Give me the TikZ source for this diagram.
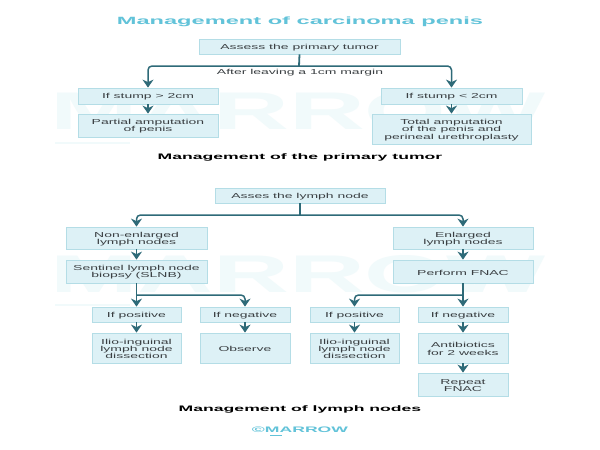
\documentclass[tikz,border=0pt]{standalone}
\usepackage{fontspec}
\setmainfont[FakeStretch=1.94]{Liberation Sans}
\newfontfamily\wmfont[FakeStretch=1.98]{Liberation Sans}
\newfontfamily\titlefont[FakeStretch=2.25]{Liberation Sans}
\newfontfamily\headfont[FakeStretch=2.2]{Liberation Sans}
\usetikzlibrary{arrows.meta}
\definecolor{boxfill}{HTML}{DDF1F6}
\definecolor{boxline}{HTML}{B4DDE6}
\definecolor{flowc}{HTML}{2E6A78}
\definecolor{titlec}{HTML}{62C3D9}
\definecolor{wmc}{HTML}{F1FAFB}
\definecolor{textc}{HTML}{3A3F42}
\tikzset{
  x=1pt,y=-1pt,
  fbox/.style={draw=boxline,fill=boxfill,line width=0.8pt,align=center,inner sep=0pt,text=textc,font=\fontsize{7.2}{7.2}\selectfont,anchor=center},
  flow/.style={draw=flowc,line width=1.8pt,-{Stealth[length=8pt,width=11pt,inset=2.5pt]}},
  flowline/.style={draw=flowc,line width=1.8pt},
  flowbend/.style={flow,line width=1.5pt,rounded corners=4pt},
  head/.style={font=\headfont\fontsize{8}{9}\selectfont\bfseries,text=black,inner sep=0pt},
  wm/.style={font=\wmfont\fontsize{53}{53}\selectfont\bfseries,text=wmc,inner sep=0pt},
  wmbar/.style={draw=wmc,line width=2pt},
}
\newcommand{\bx}[6]{\node[fbox,minimum width=#4pt-#2pt,minimum height=#5pt-#3pt] (#1) at ({(#2+#4)/2},{(#3+#5)/2}) {\rule{0pt}{7.2pt}#6};}
\begin{document}
\begin{tikzpicture}
\useasboundingbox (0,0) rectangle (600,450);
\fill[white] (0,0) rectangle (600,450);
\node[wm] (w1) at (298,111) {MARROW};
\node[wm] (w2) at (298,274) {MARROW};
\draw[wmbar] (55,143) -- (130,143);
\draw[wmbar] (55,305) -- (130,305);
\node[inner sep=0pt,font=\titlefont\fontsize{10.5}{12}\selectfont\bfseries,text=titlec] (title) at (300,22) {Management of carcinoma penis};
\bx{a}{199}{39}{400}{54}{Assess the primary tumor}
\bx{l1}{78}{88}{218}{104}{If stump > 2cm}
\bx{l2}{78}{114}{218}{137}{Partial amputation\\of penis}
\bx{r1}{381}{88}{522}{104}{If stump < 2cm}
\bx{r2}{372}{114}{531}{144}{Total amputation\\of the penis and\\perineal urethroplasty}
\coordinate (ja) at (299,66);
\draw[flowline] (a.south) -- (ja);
\draw[flowbend] (ja) -| (l1.north);
\draw[flowbend] (ja) -| (r1.north);
\draw[flow] (l1.south) -- (l2.north);
\draw[flow] (r1.south) -- (r2.north);
\node[inner sep=0pt,text=textc,font=\fontsize{7.2}{7.2}\selectfont] (mg) at (300,73) {After leaving a 1cm margin};
\node[head] (h1) at (300,157) {Management of the primary tumor};
\bx{b}{215}{188}{385}{203}{Asses the lymph node}
\bx{n1}{66}{227}{207}{249}{Non-enlarged\\lymph nodes}
\bx{n2}{66}{260}{207}{283}{Sentinel lymph node\\biopsy (SLNB)}
\bx{e1}{393}{227}{533}{249}{Enlarged\\lymph nodes}
\bx{e2}{393}{260}{533}{283}{Perform FNAC}
\coordinate (jb) at (300,215);
\draw[flowline] (b.south) -- (jb);
\draw[flowbend] (jb) -| (n1.north);
\draw[flowbend] (jb) -| (e1.north);
\draw[flow] (n1.south) -- (n2.north);
\draw[flow] (e1.south) -- (e2.north);
\bx{p1}{92}{307}{181}{322}{If positive}
\bx{g1}{200}{307}{290}{322}{If negative}
\bx{p2}{310}{307}{399}{322}{If positive}
\bx{g2}{418}{307}{508}{322}{If negative}
\bx{i1}{92}{333}{181}{363}{Ilio-inguinal\\lymph node\\dissection}
\bx{o}{200}{333}{290}{363}{Observe}
\bx{i2}{310}{333}{399}{363}{Ilio-inguinal\\lymph node\\dissection}
\bx{ab}{418}{333}{508}{363}{Antibiotics\\for 2 weeks}
\bx{rp}{418}{373}{508}{396}{Repeat\\FNAC}
\coordinate (jl) at (136.5,295);
\coordinate (jr) at (463,295);
\draw[flow] (n2.south) -- (p1.north);
\draw[flowbend] (jl) -| (g1.north);
\draw[flow] (e2.south) -- (g2.north);
\draw[flowbend] (jr) -| (p2.north);
\draw[flow] (p1.south) -- (i1.north);
\draw[flow] (g1.south) -- (o.north);
\draw[flow] (p2.south) -- (i2.north);
\draw[flow] (g2.south) -- (ab.north);
\draw[flow] (ab.south) -- (rp.north);
\node[head] (h2) at (300,409) {Management of lymph nodes};
\node[inner sep=0pt,text=titlec,font=\headfont\fontsize{8}{9}\selectfont\bfseries] (c) at (300,429.5) {©MARROW};
\draw[titlec,line width=0.8pt] (270,435) -- (282,435);
\end{tikzpicture}
\end{document}
